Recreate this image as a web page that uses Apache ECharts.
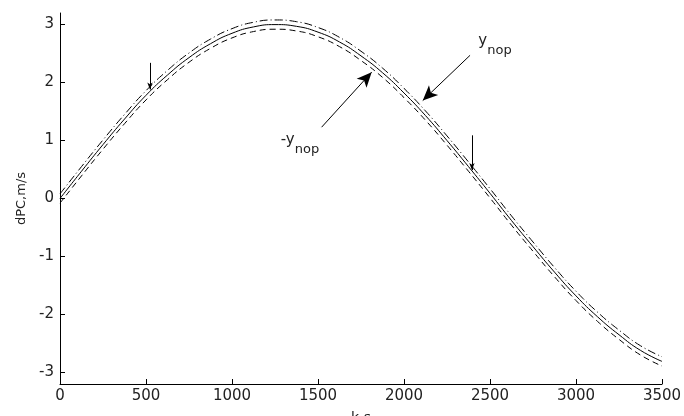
<!DOCTYPE html>
<html>
<head>
<meta charset="utf-8">
<script src="https://cdn.jsdelivr.net/npm/echarts@6/dist/echarts.min.js"></script>
<style>
  html, body { margin: 0; padding: 0; background: #fff; }
  #chart { width: 684px; height: 416px; }
</style>
</head>
<body>
<div id="chart"></div>
<script>
// 时间刻度 (k,s)
var times = [0, 125, 250, 375, 500, 625, 750, 875, 1000, 1125, 1250, 1375, 1500, 1625, 1750,
  1875, 2000, 2125, 2250, 2375, 2500, 2625, 2750, 2875, 3000, 3125, 3250, 3375, 3500];
// 实线 (中间)
var dpcMid = [0, 0.47, 0.93, 1.37, 1.78, 2.13, 2.43, 2.67, 2.85, 2.96, 3.00, 2.97, 2.87, 2.70, 2.46,
  2.17, 1.82, 1.43, 1.00, 0.55, 0.09, -0.38, -0.83, -1.27, -1.68, -2.04, -2.35, -2.62, -2.81];
// 点划线 (上)
var dpcUpper = [0.08, 0.55, 1.01, 1.45, 1.86, 2.21, 2.51, 2.75, 2.93, 3.04, 3.08, 3.05, 2.95, 2.78, 2.54,
  2.25, 1.90, 1.51, 1.08, 0.63, 0.17, -0.30, -0.75, -1.19, -1.60, -1.96, -2.27, -2.54, -2.73];
// 虚线 (下)
var dpcLower = [-0.08, 0.39, 0.85, 1.29, 1.70, 2.05, 2.35, 2.59, 2.77, 2.88, 2.92, 2.89, 2.79, 2.62, 2.38,
  2.09, 1.74, 1.35, 0.92, 0.47, 0.01, -0.46, -0.91, -1.35, -1.76, -2.12, -2.43, -2.70, -2.89];
var yTicks = [-3, -2, -1, 0, 1, 2, 3];

// 箭头: [起点x, 起点y, 终点x, 终点y]
var smallArrows = [
  [523, 2.34, 523, 1.88],
  [2395, 1.09, 2395, 0.49]
];
var bigArrows = [
  [1521, 1.23, 1812, 2.18],
  [2384, 2.47, 2109, 1.69]
];
// 标注文字位置
var labelNop = [2529, 2.64];
var labelNegNop = [1395, 0.93];

function pairs(xs, ys) {
  var out = [];
  for (var i = 0; i < xs.length; i++) out.push([xs[i], ys[i]]);
  return out;
}

var arrowLines = [];
smallArrows.forEach(function (a) {
  arrowLines.push([
    { coord: [a[0], a[1]], symbol: 'none' },
    { coord: [a[2], a[3]], symbol: 'arrow', symbolSize: [4, 7] }
  ]);
});
bigArrows.forEach(function (a) {
  arrowLines.push([
    { coord: [a[0], a[1]], symbol: 'none' },
    { coord: [a[2], a[3]], symbol: 'arrow', symbolSize: [10, 15] }
  ]);
});

var textStyle = {
  a: { fontFamily: 'DejaVu Sans', fontSize: 15, color: '#222', lineHeight: 16, verticalAlign: 'top' },
  b: { fontFamily: 'DejaVu Sans', fontSize: 13, color: '#222', lineHeight: 24, verticalAlign: 'bottom' }
};

var option = {
  animation: false,
  grid: { left: 60, right: 22, top: 13, bottom: 32, containLabel: false, outerBoundsMode: 'none' },
  xAxis: {
    type: 'value',
    min: 0,
    max: 3500,
    interval: 500,
    name: 'k,s',
    nameLocation: 'middle',
    nameGap: 27,
    nameTextStyle: { fontFamily: 'DejaVu Sans', fontSize: 14, color: '#222' },
    axisLine: { onZero: false, lineStyle: { color: '#000', width: 1 } },
    axisTick: { inside: true, length: 5, lineStyle: { color: '#000' } },
    axisLabel: {
      margin: 5, fontFamily: 'DejaVu Sans', fontSize: 15, color: '#222',
      formatter: function (v) { return String(v); }
    },
    splitLine: { show: false }
  },
  yAxis: {
    type: 'value',
    min: -3.2,
    max: 3.2,
    name: 'dPC,m/s',
    nameLocation: 'middle',
    nameGap: 32,
    nameTextStyle: { fontFamily: 'DejaVu Sans', fontSize: 13, color: '#222' },
    axisLine: { show: true, onZero: false, lineStyle: { color: '#000', width: 1 } },
    axisTick: { inside: true, length: 5, customValues: yTicks, lineStyle: { color: '#000' } },
    axisLabel: { margin: 6, customValues: yTicks, fontFamily: 'DejaVu Sans', fontSize: 15, color: '#222' },
    splitLine: { show: false }
  },
  series: [
    {
      type: 'line',
      data: pairs(times, dpcMid),
      smooth: true,
      showSymbol: false,
      lineStyle: { color: '#000', width: 1, type: 'solid' },
      markLine: {
        silent: true,
        label: { show: false },
        lineStyle: { color: '#000', width: 1, type: 'solid' },
        data: arrowLines
      },
      markPoint: {
        silent: true,
        symbolSize: 0,
        data: [
          { coord: labelNop, label: { show: true, formatter: '{a|y}{b|nop}', rich: textStyle } },
          { coord: labelNegNop, label: { show: true, formatter: '{a|-y}{b|nop}', rich: textStyle } }
        ]
      }
    },
    {
      type: 'line',
      data: pairs(times, dpcUpper),
      smooth: true,
      showSymbol: false,
      lineStyle: { color: '#000', width: 1, type: [8, 3, 1, 3] }
    },
    {
      type: 'line',
      data: pairs(times, dpcLower),
      smooth: true,
      showSymbol: false,
      lineStyle: { color: '#000', width: 1, type: [6, 4] }
    }
  ]
};

var myChart = echarts.init(document.getElementById('chart'));
myChart.setOption(option);
window.addEventListener('resize', function () {
  myChart.resize();
});
</script>
</body>
</html>
